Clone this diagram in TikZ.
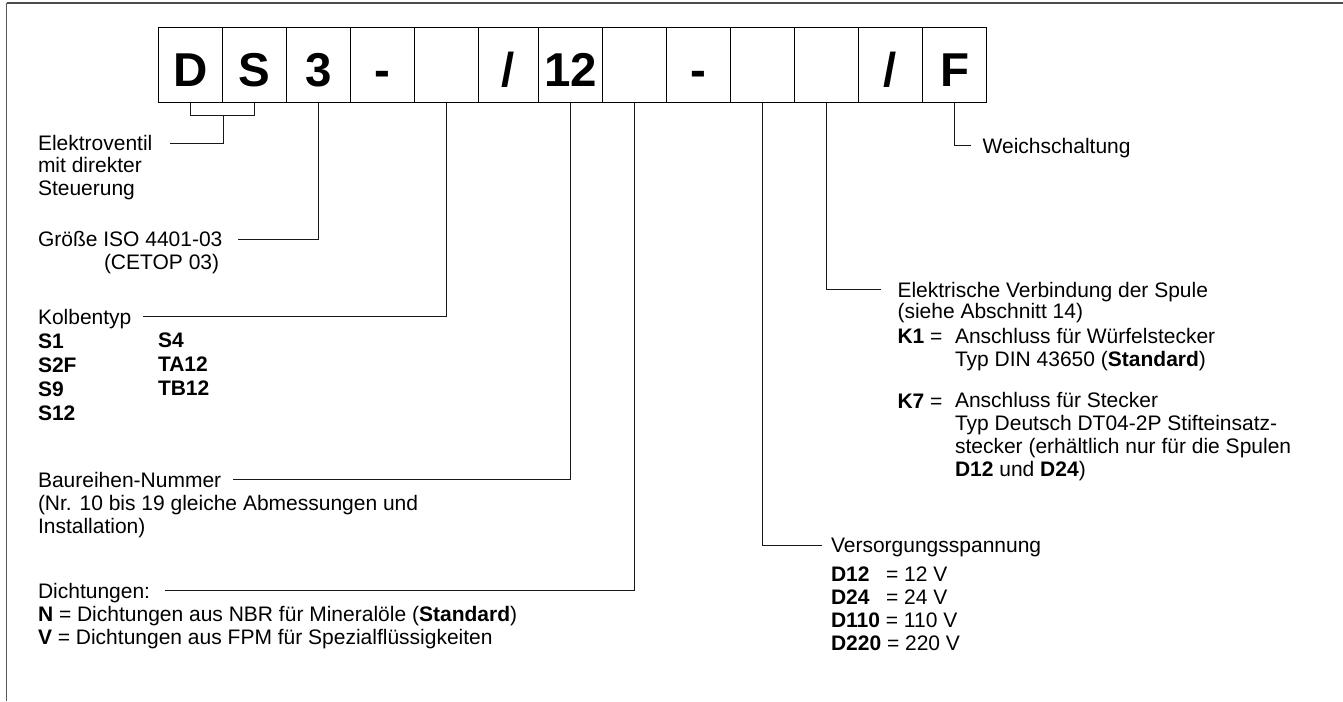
\documentclass[tikz,border=0pt]{standalone}
\usepackage{fontspec}
\setmainfont{Liberation Sans}
\usetikzlibrary{calc}
\newcommand{\codefont}{\fontsize{23.75pt}{28pt}\selectfont\bfseries}
\newcommand{\txtfont}{\fontsize{10.5pt}{11.4pt}\selectfont}
\tikzset{box/.style = {draw, line width=0.5pt, minimum width=32pt, minimum height=37.3pt, inner sep=0pt, text height=22pt, text depth=0pt, font=\codefont}}
\tikzset{lbl/.style = {anchor=text, inner sep=0pt, outer xsep=7pt, text depth=0pt, font=\txtfont}}
\tikzset{txt/.style = {anchor=text, inner sep=0pt, align=left, font=\txtfont}}
\tikzset{lead/.style = {line width=0.5pt, black!90}}

\begin{document}
\begin{tikzpicture}[x=0.5pt, y=-0.5pt]
\useasboundingbox (0,0) rectangle (1343,701);
% frame
\draw[line width=1pt, black!70] (6.7,2.7) -- (1343,2.7);
\draw[line width=0.75pt, black!65] (6.7,2.7) -- (6.7,701);

% code boxes
\node[box] (bD) at (190.5,65) {D};
\node[box] (bS) at (254.5,65) {S};
\node[box] (b3) at (318.5,65) {3};
\node[box] (bDashA) at (382.5,65) {-};
\node[box] (bSpool) at (446.5,65) {};
\node[box, minimum width=30pt] (bSlashA) at (508.5,65) {/};
\node[box] (b12) at (570.5,65) {12};
\node[box] (bSeal) at (634.5,65) {};
\node[box] (bDashB) at (698.5,65) {-};
\node[box] (bVolt) at (762.5,65) {};
\node[box] (bConn) at (826.5,65) {};
\node[box] (bSlashB) at (890.5,65) {/};
\node[box] (bF) at (954.5,65) {F};

% left labels (multi-line nodes sit on their last line)
\node[lbl, outer xsep=9pt] (ventil) at (38,150.7) {Elektroventil};
\node[txt] (ventilB) at (38,195) {mit direkter\\Steuerung};
\node[lbl, outer xsep=8pt] (size) at (38,246.7) {Größe ISO 4401-03};
\node[txt] (sizeB) at (104,269) {(CETOP 03)};
\node[lbl, outer xsep=6pt] (spool) at (38,324) {Kolbentyp};
\node[txt, font={\fontsize{10.5pt}{12pt}\selectfont\bfseries}] (spoolA) at (38,420) {S1\\S2F\\S9\\S12};
\node[txt, font={\fontsize{10.5pt}{12pt}\selectfont\bfseries}] (spoolB) at (158,395.7) {S4\\TA12\\TB12};
\node[lbl, outer xsep=6pt] (series) at (38,487) {Baureihen-Nummer};
\node[txt] (seriesB) at (38,533) {(Nr. 10 bis 19 gleiche Abmessungen und\\Installation)};
\node[lbl, outer xsep=7.5pt] (seal) at (38,598) {Dichtungen:};
\node[txt] (sealB) at (38,644) {\textbf{N} = Dichtungen aus NBR für Mineralöle (\textbf{Standard})\\\textbf{V} = Dichtungen aus FPM für Spezialflüssigkeiten};

% right labels
\node[lbl, outer xsep=6pt] (soft) at (982.7,153.3) {Weichschaltung};
\node[lbl, outer xsep=8.5pt] (conn) at (897.5,297) {Elektrische Verbindung der Spule};
\node[txt] (connB) at (897.5,318) {(siehe Abschnitt 14)};
\node[txt] (k1) at (897.5,343) {\textbf{K1} =};
\node[txt] (k1B) at (955,366) {Anschluss für Würfelstecker\\Typ DIN 43650 (\textbf{Standard})};
\node[txt] (k7) at (897.5,408) {\textbf{K7} =};
\node[txt] (k7B) at (955,476) {Anschluss für Stecker\\Typ Deutsch DT04-2P Stifteinsatz-\\stecker (erhältlich nur für die Spulen\\\textbf{D12} und \textbf{D24})};
\node[lbl, outer xsep=4.5pt] (volt) at (831,552.7) {Versorgungsspannung};
\node[txt] (voltB) at (831,650) {\makebox[27.5pt][l]{\textbf{D12}}= 12 V\\\makebox[27.5pt][l]{\textbf{D24}}= 24 V\\\textbf{D110} = 110 V\\\textbf{D220} = 220 V};

% leader lines
\coordinate (brk) at ($(bD.south east)+(0,13)$);
\draw[lead] (bD.south) |- (brk) -| (bS.south);
\draw[lead] (brk) |- (ventil.east);
\draw[lead] (b3.south) |- (size.east);
\draw[lead] (bSpool.south) |- (spool.east);
\draw[lead] (b12.south) |- (series.east);
\draw[lead] (bSeal.south) |- (seal.east);
\draw[lead] (bF.south) |- (soft.west);
\draw[lead] (bConn.south) |- (conn.west);
\draw[lead] (bVolt.south) |- (volt.west);
\end{tikzpicture}
\end{document}
